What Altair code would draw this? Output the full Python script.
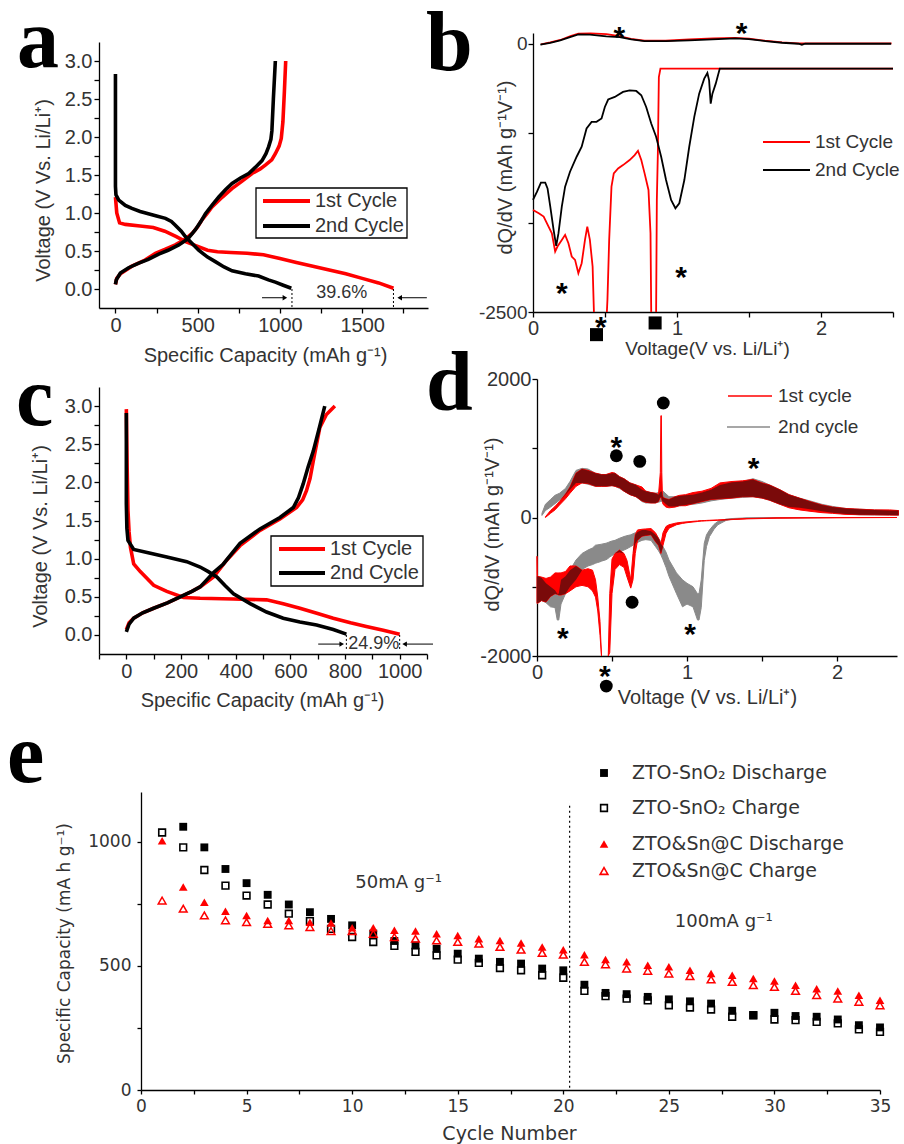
import altair as alt
import pandas as pd

# ======================= DATA =======================
# (a) voltage profiles, capacity (mAh/g) vs voltage (V)
a_dis1_cap = [0, 8, 25, 60, 150, 230, 300, 370, 430, 500, 560, 620, 700, 800, 900, 1000, 1100, 1200, 1300, 1400, 1500, 1600, 1690]
a_dis1_v = [1.21, 1.00, 0.87, 0.85, 0.83, 0.81, 0.76, 0.69, 0.62, 0.56, 0.51, 0.49, 0.48, 0.47, 0.45, 0.40, 0.35, 0.30, 0.25, 0.20, 0.14, 0.08, 0.01]
a_chg1_cap = [0, 8, 30, 100, 180, 243, 300, 364, 420, 466, 500, 526, 560, 587, 650, 708, 770, 830, 880, 911, 950, 972, 995, 1008, 1018, 1027, 1035]
a_chg1_v = [0.06, 0.14, 0.20, 0.30, 0.38, 0.47, 0.52, 0.58, 0.65, 0.73, 0.82, 0.91, 1.00, 1.08, 1.21, 1.32, 1.42, 1.52, 1.58, 1.63, 1.70, 1.78, 1.88, 1.98, 2.20, 2.60, 3.00]
a_dis2_cap = [0, 0, 3, 20, 60, 100, 150, 200, 250, 304, 340, 364, 400, 425, 466, 506, 560, 607, 660, 709, 790, 870, 930, 972, 1020, 1069]
a_dis2_v = [2.83, 1.35, 1.24, 1.17, 1.10, 1.06, 1.02, 0.99, 0.96, 0.93, 0.89, 0.84, 0.76, 0.69, 0.60, 0.51, 0.42, 0.36, 0.29, 0.24, 0.20, 0.17, 0.12, 0.09, 0.05, 0.01]
a_chg2_cap = [0, 5, 30, 80, 142, 200, 263, 320, 385, 440, 486, 520, 547, 590, 628, 670, 709, 760, 810, 850, 891, 915, 931, 945, 951, 960, 972]
a_chg2_v = [0.06, 0.12, 0.21, 0.28, 0.34, 0.39, 0.46, 0.51, 0.58, 0.66, 0.78, 0.89, 0.99, 1.11, 1.21, 1.31, 1.39, 1.46, 1.52, 1.60, 1.69, 1.78, 1.87, 1.97, 2.08, 2.50, 3.00]
a_end_cap = [1073, 1690]
a_arrow_from = [891, 1893]
a_arrow_to = [1030, 1728]
a_arrow_v = [-0.115, -0.115]
a_label = "39.6%"
a_label_pos = [1376, -0.05]

# (b) dQ/dV, ZTO-SnO2 (values beyond the axis are cut at its edge)
b_chg1_v = [0.055, 0.12, 0.19, 0.26, 0.315, 0.40, 0.51, 0.60, 0.68, 0.775, 0.92, 1.085, 1.25, 1.40, 1.50, 1.61, 1.73, 1.84, 2.0, 2.49]
b_chg1_q = [-5, 12, 35, 70, 93, 96, 90, 70, 45, 28, 28, 40, 50, 55, 48, 28, 12, 3, 3, 3]
b_dis1a_v = [0, 0.04, 0.074, 0.108, 0.131, 0.154, 0.17, 0.2, 0.223, 0.246, 0.269, 0.292, 0.315, 0.338, 0.361, 0.377, 0.395, 0.414, 0.423]
b_dis1a_q = [-1549, -1580, -1611, -1704, -1766, -1936, -1890, -1828, -1781, -1859, -1983, -2014, -2138, -2045, -1828, -1704, -1828, -2076, -2500]
b_dis1b_v = [0.513, 0.517, 0.529, 0.545, 0.561, 0.591, 0.625, 0.671, 0.706, 0.729, 0.752, 0.775, 0.802, 0.816, 0.821]
b_dis1b_q = [-2500, -2385, -1828, -1332, -1208, -1162, -1131, -1084, -1038, -998, -1084, -1208, -1363, -1766, -2500]
b_dis1c_v = [0.855, 0.86, 0.867, 0.874, 0.885, 1.292, 2.5]
b_dis1c_q = [-2500, -1456, -1022, -310, -232, -232, -232]
b_chg2_v = [0.051, 0.12, 0.189, 0.257, 0.315, 0.395, 0.51, 0.602, 0.683, 0.775, 0.924, 1.085, 1.246, 1.407, 1.499, 1.614, 1.729, 1.844, 1.867, 1.89, 2.487]
b_chg2_q = [-9, 9, 31, 62, 87, 84, 68, 62, 40, 25, 25, 31, 40, 50, 43, 25, 9, 0, -9, 0, 0]
b_dis2_v = [0, 0.028, 0.055, 0.085, 0.101, 0.12, 0.143, 0.161, 0.177, 0.2, 0.223, 0.257, 0.303, 0.338, 0.372, 0.407, 0.441, 0.476, 0.499, 0.522,
            0.568, 0.625, 0.671, 0.717, 0.752, 0.786, 0.821, 0.855, 0.89, 0.924, 0.959, 0.989, 1.016, 1.051, 1.085, 1.12, 1.154, 1.189, 1.211, 1.223,
            1.234, 1.246, 1.269, 1.297, 2.5]
b_dis2_q = [-1456, -1379, -1295, -1295, -1348, -1518, -1735, -1884, -1766, -1518, -1332, -1193, -1053, -960, -790, -728, -728, -697, -589, -520,
            -496, -449, -434, -440, -480, -589, -744, -867, -1053, -1270, -1456, -1533, -1487, -1270, -960, -682, -465, -325, -273, -341,
            -558, -465, -372, -232, -232]
b_star_v = [0.60, 1.448, 0.20, 1.028, 0.471]
b_star_q = [130, 161, -2261, -2113, -2571]
b_sq_v = [0.441, 0.848]
b_sq_q = [-2711, -2602]

# (c) voltage profiles, ZTO&Sn@C
c_dis1_cap = [0, 3, 6, 10, 15, 27, 51, 100, 148, 209, 270, 392, 513, 574, 635, 700, 757, 820, 878, 940, 1000]
c_dis1_v = [2.96, 2.2, 1.63, 1.35, 1.15, 0.93, 0.83, 0.65, 0.57, 0.49, 0.48, 0.47, 0.46, 0.41, 0.35, 0.28, 0.22, 0.16, 0.11, 0.06, 0.01]
c_chg1_cap = [0, 10, 27, 60, 100, 150, 197, 240, 270, 319, 367, 416, 489, 562, 623, 645, 659, 672, 684, 696, 708, 732, 763]
c_chg1_v = [0.07, 0.16, 0.22, 0.29, 0.35, 0.42, 0.50, 0.57, 0.63, 0.76, 0.98, 1.17, 1.37, 1.52, 1.67, 1.77, 1.89, 2.05, 2.28, 2.50, 2.72, 2.89, 3.0]
c_dis2_cap = [0, 0, 2, 6, 27, 88, 148, 221, 270, 300, 331, 360, 392, 453, 513, 574, 635, 696, 757, 805]
c_dis2_v = [2.91, 1.72, 1.4, 1.24, 1.12, 1.07, 1.02, 0.96, 0.89, 0.83, 0.76, 0.65, 0.54, 0.41, 0.30, 0.22, 0.17, 0.13, 0.07, 0.01]
c_chg2_cap = [0, 10, 27, 60, 100, 150, 197, 240, 270, 294, 320, 355, 416, 489, 562, 611, 630, 647, 665, 684, 705, 726]
c_chg2_v = [0.04, 0.14, 0.22, 0.29, 0.35, 0.42, 0.50, 0.57, 0.63, 0.72, 0.82, 0.93, 1.20, 1.39, 1.54, 1.67, 1.80, 1.98, 2.20, 2.41, 2.70, 3.0]
c_end_cap = [805, 1000]
c_arrow_from = [702, 1122]
c_arrow_to = [788, 1018]
c_arrow_v = [-0.12, -0.12]
c_label = "24.9%"
c_label_pos = [905, -0.115]

# (d) dQ/dV, ZTO&Sn@C: noisy traces read as lower / upper envelopes on a common voltage grid
N = None
d_chg_v = [0.033, 0.056, 0.09, 0.12, 0.15, 0.19, 0.22, 0.26, 0.30, 0.34, 0.39, 0.43, 0.46, 0.50, 0.52, 0.55, 0.58, 0.62, 0.66, 0.70,
           0.725, 0.76, 0.79, 0.81, 0.822, 0.826, 0.829, 0.832, 0.836, 0.84, 0.86, 0.88, 0.92, 0.95, 0.99, 1.04, 1.10, 1.16, 1.22, 1.30,
           1.37, 1.44, 1.50, 1.55, 1.62, 1.68, 1.75, 1.82, 1.90, 1.97, 2.06, 2.15, 2.25, 2.35, 2.41]
d_chg1_lo = [N, 0, 60, 110, 180, 270, 350, 450, 500, 490, 450, 450, 450, 460, 450, 430, 380, 330, 300, 240,
             220, 210, 210, 230, 300, 280, 300, 260, 230, 190, 150, 140, 150, 170, 170, 200, 230, 260, 270, 280,
             300, 300, 280, 250, 190, 140, 110, 90, 70, 60, 45, 40, 40, 35, 35]
d_chg1_hi = [N, 10, 100, 160, 230, 340, 440, 640, 700, 680, 640, 620, 620, 650, 640, 590, 560, 500, 470, 440,
             380, 360, 350, 330, 650, 1470, 1470, 650, 330, 290, 270, 260, 300, 320, 330, 360, 380, 420, 500, 520,
             530, 550, 500, 470, 400, 330, 280, 230, 180, 150, 130, 120, 110, 110, 100]
d_chg2_lo = [30, 100, 150, 200, 250, 330, 400, 500, 500, 480, 450, 450, 450, 460, 450, 420, 380, 330, 300, 230,
             210, 210, 210, 220, 230, 230, 230, 230, 230, 230, 190, 160, 160, 170, 180, 190, 210, 240, 260, 280,
             290, 300, 280, 250, 190, 150, 140, 120, 90, 70, 50, 40, 35, 35, 30]
d_chg2_hi = [60, 190, 260, 320, 350, 420, 520, 680, 710, 700, 640, 620, 620, 640, 640, 590, 560, 500, 470, 400,
             380, 360, 350, 360, 370, 375, 375, 378, 380, 380, 340, 300, 300, 310, 320, 330, 360, 400, 470, 510,
             520, 560, 520, 470, 400, 330, 280, 240, 190, 160, 130, 120, 110, 100, 100]
d_dis_v = [0.0, 0.003, 0.03, 0.06, 0.09, 0.12, 0.135, 0.145, 0.16, 0.19, 0.22, 0.26, 0.30, 0.34, 0.37, 0.39, 0.405, 0.42, 0.43, 0.46,
           0.475, 0.485, 0.50, 0.52, 0.55, 0.58, 0.60, 0.625, 0.64, 0.655, 0.67, 0.70, 0.725, 0.76, 0.79, 0.81, 0.826, 0.84, 0.86, 0.88,
           0.93, 0.97, 1.00, 1.04, 1.07, 1.08, 1.095, 1.115, 1.13, 1.15, 1.18, 1.205, 1.26, 1.30, 1.40, 1.60, 2.0, 2.4]
d_dis1_lo = [-1240, -1240, -1200, -1220, -1140, -1100, -1110, -1120, -1120, -1100, -1060, -1000, -980, -1000, -1060, -1150, -1350, -1700, -2000, N,
             -2000, -1950, -1100, -750, -680, -720, -860, -1020, -900, -520, -330, -270, -260, -250, -350, -400, -520, -400, -230, -155,
             -105, -85, -75, -65, -58, -55, -52, -50, -48, -46, -43, -40, -35, -30, -20, -10, -5, 0]
d_dis1_hi = [-560, -850, -860, -880, -860, -800, -800, -800, -800, -780, -700, -700, -760, -740, -760, -900, -1150, -1500, -2000, N,
             -2000, -1100, -600, -520, -470, -520, -620, -900, -520, -250, -180, -170, -165, -160, -220, -300, -380, -220, -130, -105,
             -78, -68, -63, -55, -50, -48, -46, -44, -42, -40, -37, -35, -28, -25, -15, -5, 0, 0]
d_dis2_lo = [-1240, -1240, -1200, -1230, -1290, -1300, -1480, -1480, -1250, -1100, -1000, -900, -750, -700, -680, -660, -650, -640, -630, -610,
             -590, -570, -550, -520, -500, -470, -450, -420, -400, -380, -360, -330, -320, -330, -420, -480, -540, -610, -720, -850,
             -1100, -1290, -1250, -1290, -1480, -1480, -1300, -620, -420, -275, -170, -106, -43, -25, -10, -5, 0, 0]
d_dis2_hi = [-850, -850, -870, -950, -1000, -1050, -1100, -1100, -900, -850, -760, -614, -520, -470, -440, -400, -395, -390, -385, -372,
             -360, -350, -340, -330, -300, -275, -262, -250, -235, -220, -210, -180, -180, -200, -250, -300, -350, -420, -500, -614,
             -800, -900, -950, -1000, -1100, -1100, -900, -372, -250, -180, -100, -58, -24, -15, -5, 0, 0, 0]
d_star_v = [0.529, 1.444, 0.172, 1.02, 0.453]
d_star_q = [1123, 810, -1634, -1576, -2193]
d_dot_v = [0.529, 0.685, 0.842, 0.634, 0.462]
d_dot_q = [892, 810, 1653, -1224, -2434]

# (e) cycling performance
e_cycle = list(range(1, 36))
e_sno2_dis_cycle = list(range(2, 36))
e_sno2_dis = [1060, 977, 890, 833, 786, 747, 716, 689, 663, 630, 600, 582, 569, 549, 529, 516, 509, 489, 482, 424,
              391, 386, 375, 365, 357, 348, 319, 301, 311, 298, 295, 284, 261, 252]
e_sno2_chg = [1037, 977, 886, 823, 783, 747, 710, 680, 649, 616, 596, 580, 556, 542, 525, 512, 491, 482, 462, 452,
              399, 378, 368, 361, 341, 332, 324, 295, 301, 284, 281, 274, 268, 244, 234]
e_snc_dis = [1004, 817, 756, 720, 703, 683, 683, 676, 672, 653, 653, 643, 640, 629, 622, 609, 602, 592, 576, 565,
             545, 526, 516, 502, 496, 482, 469, 462, 449, 439, 422, 408, 399, 382, 361]
e_snc_chg = [763, 730, 703, 683, 676, 669, 663, 656, 640, 640, 629, 616, 609, 602, 596, 589, 576, 565, 552, 545,
             516, 506, 489, 480, 469, 458, 445, 435, 422, 415, 399, 382, 368, 355, 341]
e_switch_cycle = [20.3]
e_switch_top = [1145]
e_rate_text = ["50mA g⁻¹", "100mA g⁻¹"]
e_rate_x = [12.2, 27.6]
e_rate_y = [835, 675]
e_legend = ["ZTO-SnO₂ Discharge", "ZTO-SnO₂ Charge", "ZTO&Sn@C Discharge", "ZTO&Sn@C Charge"]

# ======================= HELPERS =======================
FONT = "Liberation Sans"
EFONT = "DejaVu Sans"
SERIF = "Liberation Serif"
TXT = "#333333"
RED = "#ff0000"
GRAY = "#8a8a8a"
MAROON = "#7a0a0a"
PAGE_H = 1144
one = pd.DataFrame({"k": [0]})


def curves(items):
    rows = []
    for cyc, br, xs, ys in items:
        for i, (x, y) in enumerate(zip(xs, ys)):
            rows.append({"x": x, "y": y, "cyc": cyc, "br": br, "i": i})
    return pd.DataFrame(rows)


def envel(items):
    rows = []
    for br, xs, lo, hi in items:
        for x, l, h in zip(xs, lo, hi):
            if l is not None and h is not None:
                rows.append({"x": x, "lo": l, "hi": h, "br": br})
    return pd.DataFrame(rows)


def overlap(items):
    # common part of the 1st and 2nd cycle bands (drawn dark where both traces coincide)
    rows = []
    for br, xs, lo1, hi1, lo2, hi2 in items:
        for x, a, b, c, d in zip(xs, lo1, hi1, lo2, hi2):
            if None in (a, b, c, d):
                continue
            lo, hi = max(a, c), min(b, d)
            if lo > hi:
                lo = hi
            rows.append({"x": x, "lo": lo, "hi": hi, "br": br})
    return pd.DataFrame(rows)


def axis(values, title, orient, offset, label_expr=None, fmt=None, tx=None, ty=None, lsize=20, tsize=20,
         font=FONT, tick=5, lpad=2):
    kw = dict(values=values, title=title, orient=orient, offset=offset, labelFont=font, labelFontSize=lsize,
              labelColor=TXT, titleFont=font, titleFontSize=tsize, titleFontWeight="normal", titleColor=TXT,
              domainColor="black", domainWidth=1.3, tickColor="black", tickWidth=1.3,
              tickSize=tick, labelPadding=lpad, grid=False, titleBaseline="middle",
              titleAlign="center", labelFlush=False, labelOverlap=False, titleX=tx, titleY=ty)
    if label_expr:
        kw["labelExpr"] = label_expr
    if fmt:
        kw["format"] = fmt
    return alt.Axis(**kw)


def txt(s, x, y, size=19, font=FONT, weight="normal", color=TXT, align="left", baseline="middle"):
    return alt.Chart(one).mark_text(text=s, fontSize=size, font=font, fontWeight=weight, color=color,
                                    align=align, baseline=baseline).encode(x=alt.value(x), y=alt.value(y))


def seg(x1, x2, y, color, w):
    return alt.Chart(one).mark_rule(color=color, strokeWidth=w).encode(
        x=alt.value(x1), x2=alt.value(x2), y=alt.value(y))


def box(x1, y1, x2, y2):
    return alt.Chart(one).mark_rect(fill="white", stroke="black", strokeWidth=1.3).encode(
        x=alt.value(x1), x2=alt.value(x2), y=alt.value(y1), y2=alt.value(y2))


def letter(s, x, y):
    return txt(s, x, y, size=84, font=SERIF, weight="bold", color="black", baseline="alphabetic")


def enc(scale, ax):
    def xf(f="x"):
        return alt.X(f, type="quantitative", scale=scale[0], axis=ax[0])

    def yf(f="y"):
        return alt.Y(f, type="quantitative", scale=scale[1], axis=ax[1])
    return xf, yf


cyc_color = alt.Color("cyc:N", scale=alt.Scale(domain=["1st", "2nd"], range=[RED, "black"]), legend=None)
v_ticks = [i * 0.25 for i in range(13)]
v_lab = "datum.value * 2 % 1 == 0 ? format(datum.value, '.1f') : ''"

# ======================= PANEL A (plot box x 99-428, y 42-308) =======================
XA, YA = enc(
    (alt.Scale(domain=[-100, 1900], nice=False, zero=False, range=[99, 428]),
     alt.Scale(domain=[-0.25, 3.25], nice=False, zero=False, range=[308, 42])),
    (axis([i * 250 for i in range(8)], "Specific Capacity (mAh g⁻¹)", "bottom", -(PAGE_H - 308),
          label_expr="datum.value % 500 == 0 ? ''+datum.value : ''", tx=265, ty=47),
     axis(v_ticks, "Voltage (V Vs. Li/Li⁺)", "left", -99, label_expr=v_lab, tx=-56, ty=190)))

df_a = curves([("1st", "d", a_dis1_cap, a_dis1_v), ("1st", "c", a_chg1_cap, a_chg1_v),
               ("2nd", "d", a_dis2_cap, a_dis2_v), ("2nd", "c", a_chg2_cap, a_chg2_v)])
a_arr = pd.DataFrame({"x": a_arrow_from, "x2": a_arrow_to, "y": a_arrow_v})
panel_a = alt.layer(
    alt.Chart(df_a).mark_line(strokeWidth=3.6).encode(x=XA(), y=YA(), color=cyc_color, detail="br:N", order="i:Q"),
    alt.Chart(pd.DataFrame({"x": a_end_cap, "y": [0, 0]})).mark_rule(color="black", strokeWidth=1, strokeDash=[2, 2]).encode(
        x=XA(), y=YA(), y2=alt.value(308)),
    alt.Chart(a_arr).mark_rule(color="black", strokeWidth=1).encode(x=XA(), x2="x2:Q", y=YA()),
    alt.Chart(a_arr.iloc[[0]]).mark_point(shape="triangle-right", filled=True, color="black", size=28, opacity=1).encode(x=XA("x2"), y=YA()),
    alt.Chart(a_arr.iloc[[1]]).mark_point(shape="triangle-left", filled=True, color="black", size=28, opacity=1).encode(x=XA("x2"), y=YA()),
    alt.Chart(pd.DataFrame({"x": [a_label_pos[0]], "y": [a_label_pos[1]], "t": [a_label]})).mark_text(
        fontSize=18, font=FONT, color=TXT).encode(x=XA(), y=YA(), text="t:N"),
    box(256, 188, 407, 238), seg(263, 310, 201, RED, 4), seg(263, 310, 226, "black", 4),
    txt("1st Cycle", 315, 201, size=20), txt("2nd Cycle", 315, 226, size=20),
    letter("a", 17, 67),
)

# ======================= PANEL B (x 533-893, y 33-312) =======================
XB, YB = enc(
    (alt.Scale(domain=[0, 2.5], nice=False, zero=False, range=[533, 893]),
     alt.Scale(domain=[-2500, 100], nice=False, zero=False, range=[312, 33])),
    (axis([0, 0.5, 1, 1.5, 2, 2.5], "Voltage(V vs. Li/Li⁺)", "bottom", -(PAGE_H - 312), tsize=19,
          label_expr="datum.value % 1 == 0 ? ''+datum.value : ''", tx=707, ty=36, lpad=1),
     axis([0, -833.33, -1666.67, -2500], "dQ/dV (mAh g⁻¹V⁻¹)", "left", -533, lsize=19,
          label_expr="datum.value == 0 || datum.value == -2500 ? ''+datum.value : ''", tx=-28, ty=167, lpad=1)))

df_b = curves([("1st", "c", b_chg1_v, b_chg1_q), ("1st", "d1", b_dis1a_v, b_dis1a_q),
               ("1st", "d2", b_dis1b_v, b_dis1b_q), ("1st", "d3", b_dis1c_v, b_dis1c_q),
               ("2nd", "c", b_chg2_v, b_chg2_q), ("2nd", "d", b_dis2_v, b_dis2_q)])
panel_b = alt.layer(
    alt.Chart(df_b).mark_line(strokeWidth=1.8).encode(x=XB(), y=YB(), color=cyc_color, detail="br:N", order="i:Q"),
    alt.Chart(pd.DataFrame({"x": b_star_v, "y": b_star_q})).mark_text(
        text="*", fontSize=30, fontWeight="bold", font=FONT, color="black", dy=8).encode(x=XB(), y=YB()),
    alt.Chart(pd.DataFrame({"x": b_sq_v, "y": b_sq_q})).mark_point(
        shape="square", filled=True, color="black", size=170, opacity=1).encode(x=XB(), y=YB()),
    seg(763, 810, 142, RED, 2), seg(763, 810, 170, "black", 2),
    txt("1st Cycle", 815, 142, size=19), txt("2nd Cycle", 815, 170, size=19),
    letter("b", 426, 70),
)

# ======================= PANEL C (x 99-427, y 387-654) =======================
XC, YC = enc(
    (alt.Scale(domain=[-100, 1100], nice=False, zero=False, range=[99, 427]),
     alt.Scale(domain=[-0.25, 3.25], nice=False, zero=False, range=[654, 387])),
    (axis([i * 100 for i in range(-1, 12)], "Specific Capacity (mAh g⁻¹)", "bottom", -(PAGE_H - 654),
          label_expr="datum.value >= 0 && datum.value % 200 == 0 ? ''+datum.value : ''", tx=262, ty=46),
     axis(v_ticks, "Voltage (V Vs. Li/Li⁺)", "left", -99, label_expr=v_lab, tx=-59, ty=536)))

df_c = curves([("1st", "d", c_dis1_cap, c_dis1_v), ("1st", "c", c_chg1_cap, c_chg1_v),
               ("2nd", "d", c_dis2_cap, c_dis2_v), ("2nd", "c", c_chg2_cap, c_chg2_v)])
c_arr = pd.DataFrame({"x": c_arrow_from, "x2": c_arrow_to, "y": c_arrow_v})
panel_c = alt.layer(
    alt.Chart(df_c).mark_line(strokeWidth=3.6).encode(x=XC(), y=YC(), color=cyc_color, detail="br:N", order="i:Q"),
    alt.Chart(pd.DataFrame({"x": c_end_cap, "y": [0, 0]})).mark_rule(color="black", strokeWidth=1, strokeDash=[2, 2]).encode(
        x=XC(), y=YC(), y2=alt.value(650)),
    alt.Chart(c_arr).mark_rule(color="black", strokeWidth=1).encode(x=XC(), x2="x2:Q", y=YC()),
    alt.Chart(c_arr.iloc[[0]]).mark_point(shape="triangle-right", filled=True, color="black", size=28, opacity=1).encode(x=XC("x2"), y=YC()),
    alt.Chart(c_arr.iloc[[1]]).mark_point(shape="triangle-left", filled=True, color="black", size=28, opacity=1).encode(x=XC("x2"), y=YC()),
    alt.Chart(pd.DataFrame({"x": [c_label_pos[0]], "y": [c_label_pos[1]], "t": [c_label]})).mark_text(
        fontSize=18, font=FONT, color=TXT).encode(x=XC(), y=YC(), text="t:N"),
    box(271, 536, 423, 586), seg(279, 325, 549, RED, 4), seg(279, 325, 573, "black", 4),
    txt("1st Cycle", 330, 549, size=20), txt("2nd Cycle", 330, 573, size=20),
    letter("c", 16, 425),
)

# ======================= PANEL D (x 537-897, y 379-656) =======================
XD, YD = enc(
    (alt.Scale(domain=[0, 2.4], nice=False, zero=False, range=[537, 897]),
     alt.Scale(domain=[-2000, 2000], nice=False, zero=False, range=[656, 379])),
    (axis([0, 0.5, 1, 1.5, 2], "Voltage (V vs. Li/Li⁺)", "bottom", -(PAGE_H - 656),
          label_expr="datum.value % 1 == 0 ? ''+datum.value : ''", tx=707, ty=41, lpad=1),
     axis([-2000, -1000, 0, 1000, 2000], "dQ/dV (mAh g⁻¹V⁻¹)", "left", -537,
          label_expr="datum.value % 2000 == 0 ? ''+datum.value : ''", tx=-45, ty=524, lpad=1)))

brk = d_dis_v.index(0.46)
df_d2 = envel([("c", d_chg_v, d_chg2_lo, d_chg2_hi), ("d", d_dis_v, d_dis2_lo, d_dis2_hi)])
df_d1 = envel([("c", d_chg_v, d_chg1_lo, d_chg1_hi),
               ("d1", d_dis_v[:brk], d_dis1_lo[:brk], d_dis1_hi[:brk]),
               ("d2", d_dis_v[brk + 1:], d_dis1_lo[brk + 1:], d_dis1_hi[brk + 1:])])
df_ov = overlap([("c", d_chg_v, d_chg1_lo, d_chg1_hi, d_chg2_lo, d_chg2_hi),
                 ("d1", d_dis_v[:brk], d_dis1_lo[:brk], d_dis1_hi[:brk], d_dis2_lo[:brk], d_dis2_hi[:brk]),
                 ("d2", d_dis_v[brk + 1:], d_dis1_lo[brk + 1:], d_dis1_hi[brk + 1:], d_dis2_lo[brk + 1:], d_dis2_hi[brk + 1:])])
panel_d = alt.layer(
    alt.Chart(df_d2).mark_area(color=GRAY, stroke=GRAY, strokeWidth=1, opacity=1).encode(
        x=XD(), y=YD("lo"), y2="hi:Q", detail="br:N"),
    alt.Chart(df_d1).mark_area(color=RED, stroke=RED, strokeWidth=1, opacity=1).encode(
        x=XD(), y=YD("lo"), y2="hi:Q", detail="br:N"),
    alt.Chart(df_ov).mark_area(color=MAROON, opacity=1).encode(
        x=XD(), y=YD("lo"), y2="hi:Q", detail="br:N"),
    alt.Chart(pd.DataFrame({"x": d_star_v, "y": d_star_q})).mark_text(
        text="*", fontSize=30, fontWeight="bold", font=FONT, color="black", dy=8).encode(x=XD(), y=YD()),
    alt.Chart(pd.DataFrame({"x": d_dot_v, "y": d_dot_q})).mark_circle(
        color="black", size=165, opacity=1).encode(x=XD(), y=YD()),
    seg(728, 772, 396, RED, 1.5), seg(727, 770, 427, GRAY, 1.5),
    txt("1st cycle", 778, 396, size=19), txt("2nd cycle", 778, 427, size=19),
    letter("d", 426, 410),
)

# ======================= PANEL E (x 141-880, y 792-1090) =======================
XE, YE = enc(
    (alt.Scale(domain=[0, 35], nice=False, zero=False, range=[141, 880]),
     alt.Scale(domain=[0, 1200], nice=False, zero=False, range=[1090, 792])),
    (axis([i * 2.5 for i in range(15)], "Cycle Number", "bottom", -(PAGE_H - 1090),
          label_expr="datum.value % 5 == 0 ? ''+datum.value : ''", tx=509, ty=43,
          lsize=17, tsize=19, font=EFONT, lpad=4, tick=4),
     axis([0, 250, 500, 750, 1000], "Specific Capacity (mA h g⁻¹)", "left", -141,
          label_expr="datum.value % 500 == 0 ? ''+datum.value : ''", tx=-77, ty=943,
          lsize=17, tsize=17, font=EFONT, lpad=6, tick=4)))

leg_rows = [773, 808, 844, 871]
leg_marks = [("square", True, "black", 62), ("square", False, "black", 45),
             ("triangle-up", True, RED, 75), ("triangle-up", False, RED, 60)]
e_leg = []
for (shp, fil, col, sz), yy, lab in zip(leg_marks, leg_rows, e_legend):
    e_leg.append(alt.Chart(one).mark_point(shape=shp, filled=fil, color=col, size=sz, strokeWidth=1.6, opacity=1).encode(
        x=alt.value(604), y=alt.value(yy)))
    e_leg.append(txt(lab, 632, yy, size=19, font=EFONT))
panel_e = alt.layer(
    alt.Chart(pd.DataFrame({"x": e_switch_cycle, "y": e_switch_top})).mark_rule(
        color="black", strokeWidth=1.2, strokeDash=[2, 3]).encode(x=XE(), y=YE(), y2=alt.value(1090)),
    alt.Chart(pd.DataFrame({"x": e_sno2_dis_cycle, "y": e_sno2_dis})).mark_point(
        shape="square", filled=True, color="black", size=62, opacity=1).encode(x=XE(), y=YE()),
    alt.Chart(pd.DataFrame({"x": e_cycle, "y": e_sno2_chg})).mark_point(
        shape="square", filled=False, color="black", size=45, strokeWidth=1.6, opacity=1).encode(x=XE(), y=YE()),
    alt.Chart(pd.DataFrame({"x": e_cycle, "y": e_snc_dis})).mark_point(
        shape="triangle-up", filled=True, color=RED, size=75, opacity=1).encode(x=XE(), y=YE()),
    alt.Chart(pd.DataFrame({"x": e_cycle, "y": e_snc_chg})).mark_point(
        shape="triangle-up", filled=False, color=RED, size=60, strokeWidth=1.5, opacity=1).encode(x=XE(), y=YE()),
    alt.Chart(pd.DataFrame({"x": e_rate_x, "y": e_rate_y, "t": e_rate_text})).mark_text(
        fontSize=18, font=EFONT, color=TXT).encode(x=XE(), y=YE(), text="t:N"),
    *e_leg,
    letter("e", 7, 782),
)

# ======================= WHOLE FIGURE =======================
chart = alt.layer(panel_a, panel_b, panel_c, panel_d, panel_e).resolve_scale(
    x="independent", y="independent"
).properties(
    width=904, height=PAGE_H, padding=0, autosize=alt.AutoSizeParams(type="none")
).configure_view(stroke=None)

chart.save("out.html", embed_options={"renderer": "svg", "actions": False})
